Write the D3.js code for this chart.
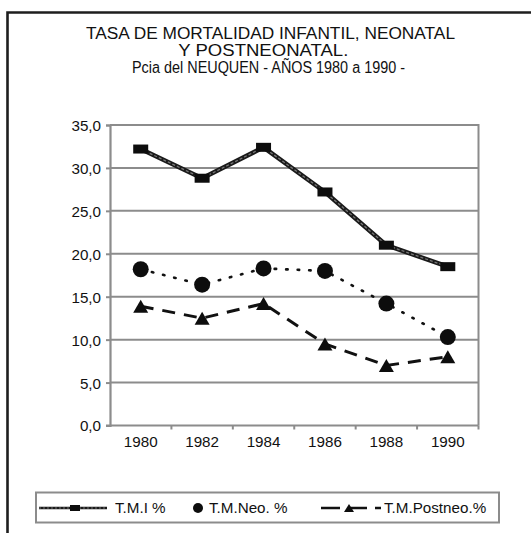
<!DOCTYPE html>
<html>
<head>
<meta charset="utf-8">
<script src="https://cdn.jsdelivr.net/npm/d3@7"></script>
<style>
  html, body { margin: 0; padding: 0; background: #fff; }
  svg { display: block; }
  text { font-family: "Liberation Sans", Arial, Helvetica, sans-serif; fill: #111; }
</style>
</head>
<body>
<svg id="chart" width="531" height="533"></svg>
<script>
// ---- data ----
const titleLines = ["TASA DE MORTALIDAD INFANTIL, NEONATAL", "Y POSTNEONATAL.", "Pcia del NEUQUEN - AÑOS 1980 a 1990 -"];
const years = ["1980", "1982", "1984", "1986", "1988", "1990"];
const tmi = [32.2, 28.8, 32.4, 27.2, 21.0, 18.5];
const neo = [18.2, 16.4, 18.3, 18.0, 14.2, 10.3];
const postneo = [13.9, 12.5, 14.2, 9.5, 7.0, 8.0];
const yTicks = [0, 5, 10, 15, 20, 25, 30, 35];
const seriesNames = ["T.M.I %", "T.M.Neo. %", "T.M.Postneo.%"];

const svg = d3.select("#chart");
const gridColor = "#8c8c8c";

// outer frame (top + left)
svg.append("path")
  .attr("d", "M7.5,533 L7.5,12.5 L531,12.5")
  .attr("fill", "none").attr("stroke", "#1e1e1e").attr("stroke-width", 2.6);

// title
const titleLens = [369, 170, 273];
const titleSizes = [16.3, 16.3, 15.6];
const titleY = [39.3, 56, 72.6];
svg.selectAll("text.title").data(titleLines).join("text")
  .attr("class", "title")
  .attr("x", (d, i) => [270.5, 263.3, 268.5][i])
  .attr("y", (d, i) => titleY[i])
  .attr("text-anchor", "middle")
  .attr("font-size", (d, i) => titleSizes[i])
  .attr("textLength", (d, i) => titleLens[i])
  .attr("lengthAdjust", "spacingAndGlyphs")
  .text(d => d);

// scales
const plot = { left: 110, right: 478.5, top: 125, bottom: 425.5 };
const x = d3.scaleBand().domain(years).range([plot.left, plot.right]).padding(0);
const y = d3.scaleLinear().domain([0, 35]).range([plot.bottom, plot.top]);
const cx = d => x(d) + x.bandwidth() / 2;

// gridlines
svg.append("g").selectAll("line").data(yTicks.filter(t => t > 0)).join("line")
  .attr("x1", plot.left).attr("x2", plot.right)
  .attr("y1", d => y(d)).attr("y2", d => y(d))
  .attr("stroke", gridColor).attr("stroke-width", 2);

// right border
svg.append("line")
  .attr("x1", plot.right).attr("x2", plot.right)
  .attr("y1", plot.top - 1).attr("y2", plot.bottom)
  .attr("stroke", gridColor).attr("stroke-width", 2);

// y axis
const yAxis = svg.append("g").attr("transform", `translate(${plot.left},0)`)
  .call(d3.axisLeft(y).tickValues(yTicks).tickSize(4).tickPadding(6)
    .tickFormat(d => d3.format(".1f")(d).replace(".", ",")));
yAxis.select(".domain").attr("stroke", gridColor).attr("stroke-width", 2.2);
yAxis.selectAll(".tick line").attr("stroke", gridColor).attr("stroke-width", 2);
yAxis.selectAll(".tick text").attr("font-size", 15.2)
  .attr("font-family", "\"Liberation Sans\", Arial, sans-serif").attr("fill", "#111")
  .attr("dy", "0.36em").attr("x", -9);

// x axis
const boundaries = d3.range(years.length + 1).map(i => plot.left + i * x.bandwidth());
const xAxisG = svg.append("g");
xAxisG.append("line")
  .attr("x1", plot.left - 4).attr("x2", plot.right)
  .attr("y1", plot.bottom).attr("y2", plot.bottom)
  .attr("stroke", gridColor).attr("stroke-width", 2.2);
xAxisG.selectAll("line.tk").data(boundaries.slice(1)).join("line")
  .attr("class", "tk")
  .attr("x1", d => d).attr("x2", d => d)
  .attr("y1", plot.bottom).attr("y2", plot.bottom + 4)
  .attr("stroke", gridColor).attr("stroke-width", 2);
xAxisG.selectAll("text").data(years).join("text")
  .attr("x", d => cx(d)).attr("y", 446.7)
  .attr("text-anchor", "middle").attr("font-size", 15.2)
  .text(d => d);

// line generators
const line = d3.line().x((d, i) => cx(years[i])).y(d => y(d));

// TMI: thick textured line
svg.append("path").datum(tmi).attr("d", line)
  .attr("fill", "none").attr("stroke", "#1a1a1a").attr("stroke-width", 4.5)
  .attr("stroke-linejoin", "round");
svg.append("path").datum(tmi).attr("d", line)
  .attr("fill", "none").attr("stroke", "#777").attr("stroke-width", 1.3)
  .attr("stroke-dasharray", "3,2");

// Neo: dotted
svg.append("path").datum(neo).attr("d", line)
  .attr("fill", "none").attr("stroke", "#111").attr("stroke-width", 2.6)
  .attr("stroke-linecap", "round").attr("stroke-dasharray", "1.5,10");

// Postneo: dashed
svg.append("path").datum(postneo).attr("d", line)
  .attr("fill", "none").attr("stroke", "#111").attr("stroke-width", 3)
  .attr("stroke-dasharray", "13,9");

// markers
svg.append("g").selectAll("rect").data(tmi).join("rect")
  .attr("x", (d, i) => cx(years[i]) - 7.5).attr("y", d => y(d) - 4.5)
  .attr("width", 15).attr("height", 9).attr("fill", "#0d0d0d");

svg.append("g").selectAll("circle").data(neo).join("circle")
  .attr("cx", (d, i) => cx(years[i])).attr("cy", d => y(d))
  .attr("r", 8).attr("fill", "#0d0d0d");

const tri = (px, py, w, h) => `M${px},${py - h / 2} L${px + w / 2},${py + h / 2} L${px - w / 2},${py + h / 2} Z`;
svg.append("g").selectAll("path").data(postneo).join("path")
  .attr("d", (d, i) => tri(cx(years[i]), y(d), 15, 13))
  .attr("fill", "#0d0d0d");

// legend
const lg = svg.append("g");
lg.append("rect").attr("x", 36).attr("y", 492.5).attr("width", 463).attr("height", 30)
  .attr("fill", "#fff").attr("stroke", gridColor).attr("stroke-width", 2);
const ly = 508;
// TMI sample
lg.append("line").attr("x1", 39).attr("x2", 107).attr("y1", ly).attr("y2", ly)
  .attr("stroke", "#1a1a1a").attr("stroke-width", 2.4);
lg.append("line").attr("x1", 39).attr("x2", 107).attr("y1", ly).attr("y2", ly)
  .attr("stroke", "#888").attr("stroke-width", 0.8).attr("stroke-dasharray", "2,2");
lg.append("rect").attr("x", 70).attr("y", ly - 3).attr("width", 10).attr("height", 6).attr("fill", "#0d0d0d");
// Neo sample
lg.append("circle").attr("cx", 198).attr("cy", ly).attr("r", 5).attr("fill", "#0d0d0d");
// Postneo sample
lg.append("line").attr("x1", 321).attr("x2", 381).attr("y1", ly).attr("y2", ly)
  .attr("stroke", "#111").attr("stroke-width", 2.6).attr("stroke-dasharray", "19,8");
lg.append("path").attr("d", tri(349, ly, 10, 8)).attr("fill", "#0d0d0d");

const legendX = [115, 209, 384];
lg.selectAll("text").data(seriesNames).join("text")
  .attr("x", (d, i) => legendX[i]).attr("y", ly).attr("dy", "0.36em")
  .attr("font-size", 15.2).text(d => d);
</script>
</body>
</html>
